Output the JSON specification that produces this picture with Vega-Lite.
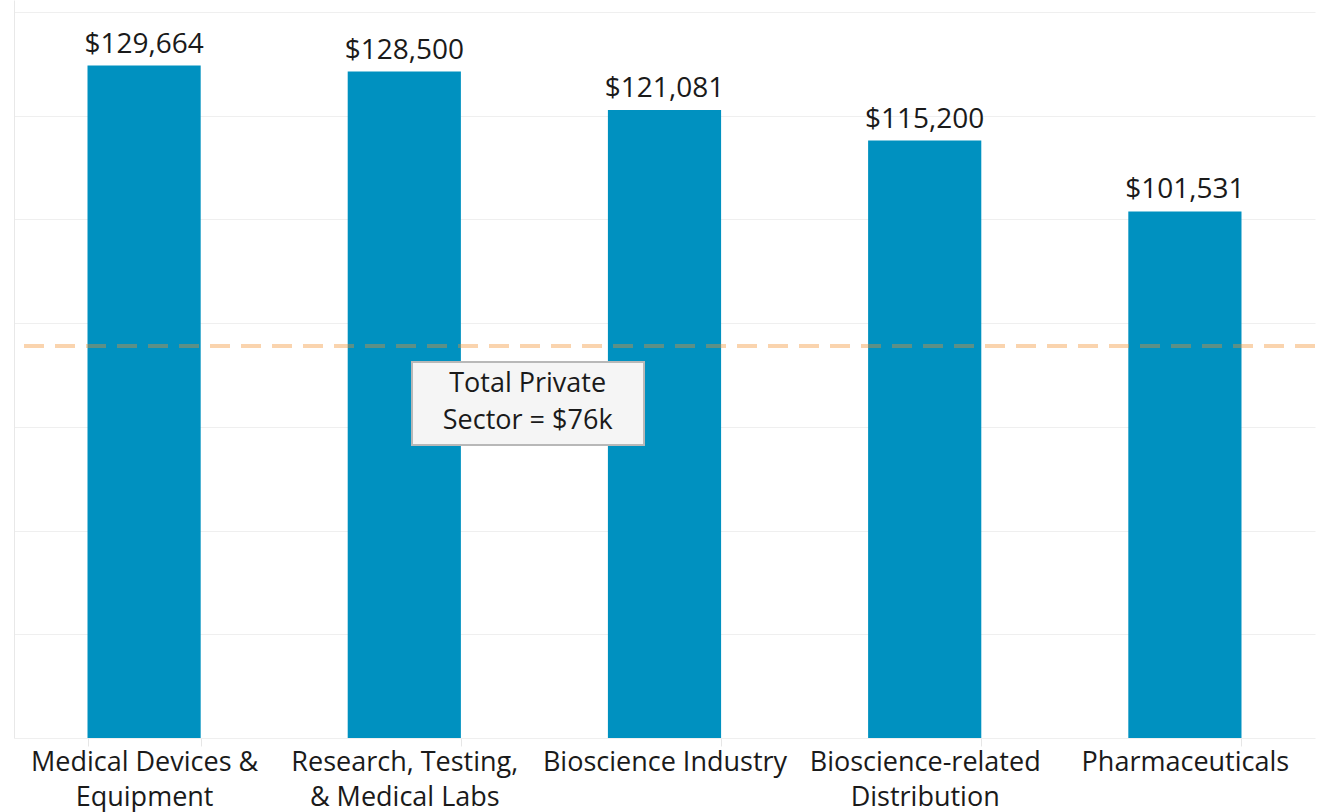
{
  "$schema": "https://vega.github.io/schema/vega-lite/v6.json",
  "width": 1301,
  "height": 738,
  "autosize": {"type": "none"},
  "padding": {"left": 14, "top": 0, "right": 4, "bottom": 74},
  "background": "white",
  "config": {
    "view": {"stroke": null},
    "font": "Open Sans",
    "text": {"font": "Open Sans"}
  },
  "datasets": {
    "wages": [
      {"category": "Medical Devices & Equipment", "wage": 129664},
      {"category": "Research, Testing, & Medical Labs", "wage": 128500},
      {"category": "Bioscience Industry", "wage": 121081},
      {"category": "Bioscience-related Distribution", "wage": 115200},
      {"category": "Pharmaceuticals", "wage": 101531}
    ],
    "reference": [
      {"label": "Total Private Sector", "value": 75600}
    ]
  },
  "data": {"name": "wages"},
  "layer": [
    {
      "mark": {"type": "bar", "color": "#0091c0"},
      "encoding": {
        "x": {
          "field": "category",
          "type": "nominal",
          "sort": null,
          "scale": {"paddingInner": 0.565, "paddingOuter": 0.2825},
          "axis": {
            "title": null,
            "labelAngle": 0,
            "labelFont": "Open Sans",
            "labelFontSize": 27,
            "labelColor": "#1a1a1a",
            "labelLineHeight": 35,
            "labelPadding": 3,
            "labelLimit": 400,
            "tickBand": "extent",
            "tickSize": 8,
            "tickColor": "#e6e6e6",
            "domain": false,
            "labelExpr": "datum.label == 'Medical Devices & Equipment' ? ['Medical Devices &', 'Equipment'] : datum.label == 'Research, Testing, & Medical Labs' ? ['Research, Testing,', '& Medical Labs'] : datum.label == 'Bioscience-related Distribution' ? ['Bioscience-related', 'Distribution'] : datum.label"
          }
        },
        "y": {
          "field": "wage",
          "type": "quantitative",
          "scale": {"domain": [0, 142300], "nice": false},
          "axis": {
            "title": null,
            "labels": false,
            "ticks": false,
            "domain": true,
            "domainColor": "#e8e8e8",
            "gridColor": "#efefef",
            "values": [0, 20000, 40000, 60000, 80000, 100000, 120000, 140000]
          }
        }
      }
    },
    {
      "mark": {"type": "text", "baseline": "alphabetic", "dy": -13, "fontSize": 28, "color": "#1a1a1a", "font": "Open Sans"},
      "encoding": {
        "x": {"field": "category", "type": "nominal", "sort": null},
        "y": {"field": "wage", "type": "quantitative"},
        "text": {"field": "wage", "type": "quantitative", "format": "$,.0f"}
      }
    },
    {
      "data": {"name": "reference"},
      "mark": {"type": "rule", "stroke": "#f28e2b", "strokeOpacity": 0.38, "strokeDash": [20, 11], "strokeWidth": 4},
      "encoding": {
        "y": {"field": "value", "type": "quantitative"}
      }
    },
    {
      "data": {"name": "reference"},
      "mark": {"type": "rect", "fill": "#f5f5f5", "stroke": "#b8b8b8", "strokeWidth": 2},
      "encoding": {
        "x": {"datum": "Research, Testing, & Medical Labs", "type": "nominal", "bandPosition": 0.568},
        "x2": {"datum": "Bioscience Industry", "bandPosition": 0.319},
        "y": {"datum": 72500, "type": "quantitative"},
        "y2": {"datum": 56500}
      }
    },
    {
      "data": {"name": "reference"},
      "mark": {"type": "text", "baseline": "middle", "align": "center", "fontSize": 27, "lineHeight": 37, "color": "#1a1a1a", "font": "Open Sans"},
      "encoding": {
        "x": {"datum": "Research, Testing, & Medical Labs", "type": "nominal", "bandPosition": 1.59},
        "y": {"datum": 68300, "type": "quantitative"},
        "text": {"value": ["Total Private", "Sector = $76k"]}
      }
    }
  ]
}
